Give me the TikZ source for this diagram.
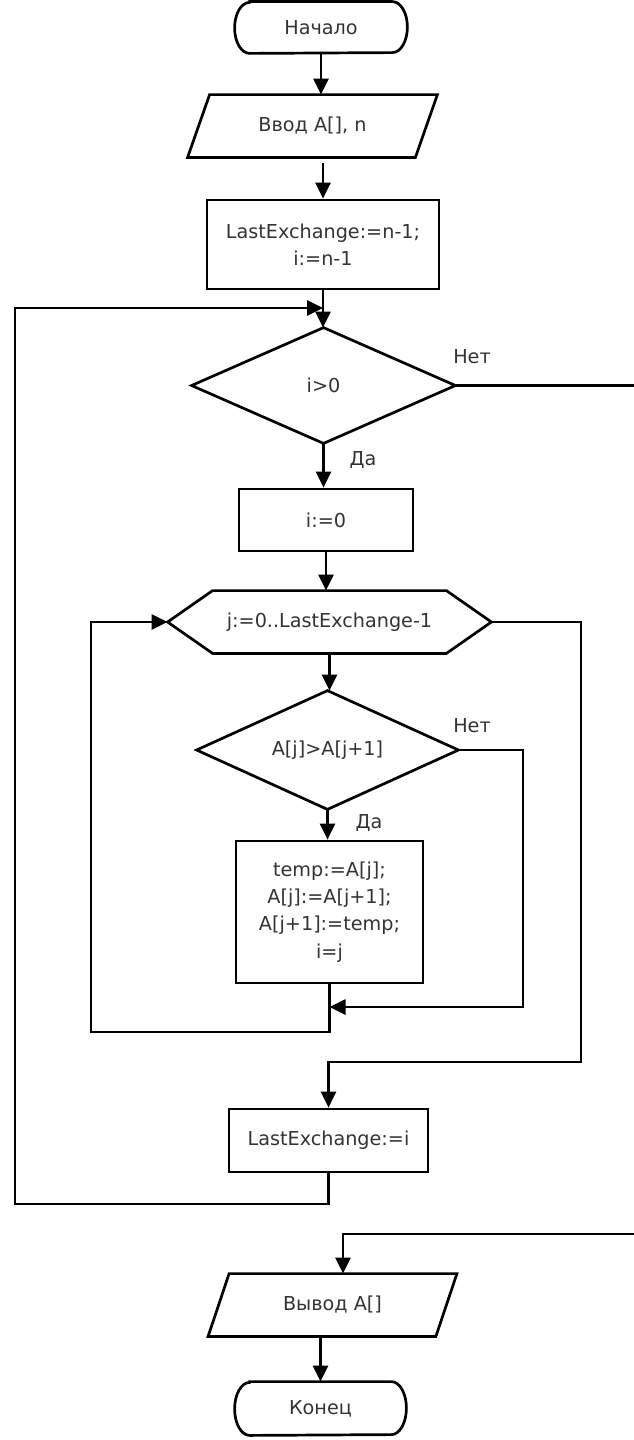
\documentclass[tikz,border=0pt]{standalone}
\usepackage{fontspec}
\setmainfont{DejaVu Sans}
\usetikzlibrary{arrows.meta,calc}
\tikzset{
  base/.style={inner sep=0pt, align=center, text=black!80,
    font=\fontsize{9.6}{13.6}\selectfont},
  box/.style={base, draw=black, line width=1.35pt},
  plain/.style={base},
  lbl/.style={base},
  outline/.style={draw=black, line width=1.35pt, line join=miter},
  arr/.style={draw=black, line width=1.35pt, -{Triangle[width=7.5pt,length=8pt]}},
}
\begin{document}
\begin{tikzpicture}[x=0.5pt,y=-0.5pt]
\useasboundingbox (0,0) rectangle (633,1440);

% nodes
\node[plain, minimum width=86pt, minimum height=25.5pt] (start) at (321,27.5) {Начало};
\node[plain, minimum width=113.5pt, minimum height=31pt] (in) at (312.5,126) {Ввод A[], n};
\node[box, minimum width=116pt, minimum height=44.5pt] (init) at (323,244.5) {LastExchange:=n-1;\\i:=n-1};
\node[plain, minimum width=131.5pt, minimum height=57.5pt] (c1) at (323.5,385.5) {i>0};
\node[lbl] (no1) at (472,357) {Нет};
\node[lbl] (yes1) at (363,460) {Да};
\node[box, minimum width=87pt, minimum height=31pt] (zero) at (326,520) {i:=0};
\node[plain, minimum width=161.5pt, minimum height=31pt] (hx) at (329.5,622) {j:=0..LastExchange-1};
\node[plain, minimum width=130.5pt, minimum height=59pt] (cmp) at (327.5,750) {A[j]>A[j+1]};
\node[lbl] (no2) at (472,726) {Нет};
\node[lbl] (yes2) at (369,823) {Да};
\node[box, minimum width=93.5pt, minimum height=71pt] (swap) at (329.5,912) {temp:=A[j];\\A[j]:=A[j+1];\\A[j+1]:=temp;\\i=j};
\node[box, minimum width=99.5pt, minimum height=31.5pt] (setle) at (328.5,1140.5) {LastExchange:=i};
\node[plain, minimum width=113.5pt, minimum height=31pt] (out) at (332.5,1305) {Вывод A[]};
\node[plain, minimum width=85.5pt, minimum height=26.5pt] (stop) at (320.5,1408.5) {Конец};

% outlines
\draw[outline] ($(start.north west)+(15,0)$) -- ($(start.north east)+(-15,0)$)
  arc[start angle=-90, end angle=90, x radius=15, y radius=25.5]
  -- ($(start.south west)+(15,0)$)
  arc[start angle=90, end angle=270, x radius=15, y radius=25.5] -- cycle;
\draw[outline] ($(stop.north west)+(15,0)$) -- ($(stop.north east)+(-15,0)$)
  arc[start angle=-90, end angle=90, x radius=15, y radius=26.5]
  -- ($(stop.south west)+(15,0)$)
  arc[start angle=90, end angle=270, x radius=15, y radius=26.5] -- cycle;
\draw[outline] ($(in.north west)+(11,0)$) -- ($(in.north east)+(11,0)$) -- ($(in.south east)+(-11,0)$) -- ($(in.south west)+(-11,0)$) -- cycle;
\draw[outline] (c1.north) -- (c1.east) -- (c1.south) -- (c1.west) -- cycle;
\draw[outline] ($(hx.north west)+(45,0)$) -- ($(hx.north east)+(-45,0)$) -- (hx.east) -- ($(hx.south east)+(-45,0)$) -- ($(hx.south west)+(45,0)$) -- (hx.west) -- cycle;
\draw[outline] (cmp.north) -- (cmp.east) -- (cmp.south) -- (cmp.west) -- cycle;
\draw[outline] ($(out.north west)+(10.5,0)$) -- ($(out.north east)+(10.5,0)$) -- ($(out.south east)+(-10.5,0)$) -- ($(out.south west)+(-10.5,0)$) -- cycle;

% helper coordinates
\coordinate (j1) at (323,308);
\coordinate (r2) at (523,1007);
\coordinate (m1) at (329.5,1007);
\coordinate (l2) at (91,1032);
\coordinate (r1) at (581,1062);
\coordinate (l1) at (15,1204);
\coordinate (r0) at (638,1234);
\coordinate (o1) at ($(out.north)+(10.5,0)$);

% connectors
\draw[arr] (start.south) -- (start.south |- in.north);
\draw[arr, shorten <=3pt] (init.north |- in.south) -- (init.north);
\draw[arr] (init.south) -- (init.south |- c1.north);
\draw[arr] (c1.south) -- (c1.south |- zero.north);
\draw[arr] (zero.south) -- (zero.south |- hx.north);
\draw[arr] (hx.south) -- (hx.south |- cmp.north);
\draw[arr] (cmp.south) -- (cmp.south |- swap.north);
\draw[arr] (cmp.east) -| (r2) -- (m1);
\draw[arr] (swap.south) |- (l2) |- (hx.west);
\draw[arr] (hx.east) -| (r1) -| (setle.north);
\draw[arr] (setle.south) |- (l1) |- (j1);
\draw[arr] (c1.east) -| (r0) -| (o1);
\draw[arr] (stop.north |- out.south) -- (stop.north);
\end{tikzpicture}
\end{document}
